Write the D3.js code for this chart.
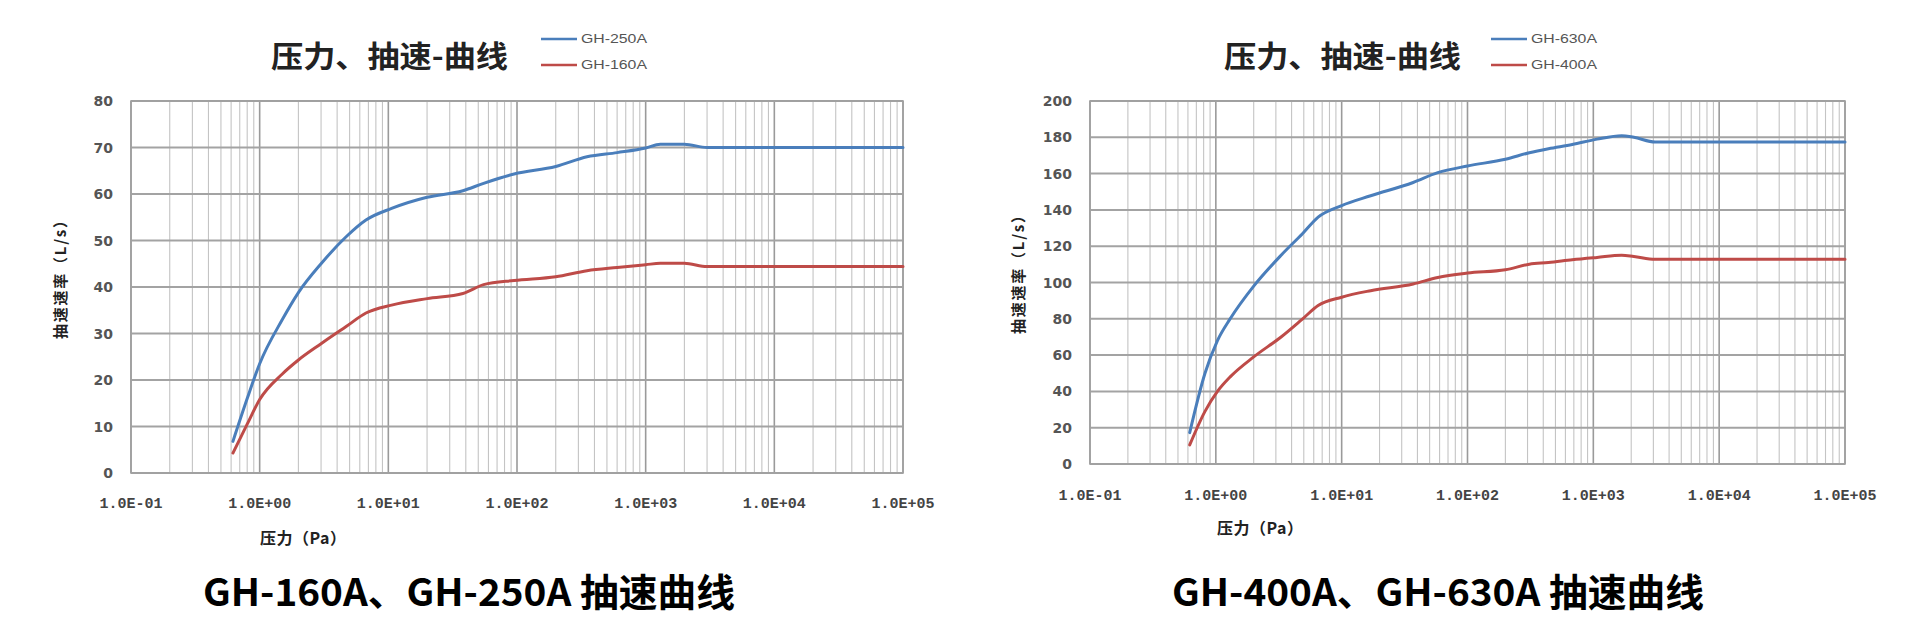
<!DOCTYPE html>
<html>
<head>
<meta charset="utf-8">
<script src="https://cdn.jsdelivr.net/npm/d3@7"></script>
<style>
  html, body { margin: 0; padding: 0; background: #fff; }
  svg { display: block; }
</style>
</head>
<body>
<svg id="chart" width="1920" height="641"></svg>
<script>
// ---------- DATA ----------
// Left chart: GH-160A / GH-250A
const pressureA = [0.62, 0.8, 1, 1.5, 2, 3, 4.7, 6.7, 10.6, 20, 38, 55, 95, 200, 350, 600, 1000, 1300, 2000, 3000, 100000];
const gh250 = [6.8, 16, 23.5, 33, 38.8, 45, 50.8, 54.4, 56.9, 59.3, 60.7, 62.3, 64.3, 65.9, 68.0, 68.9, 69.9, 70.7, 70.7, 70.0, 70.0];
const gh160 = [4.3, 10.5, 15.8, 21.3, 24.3, 27.8, 31.5, 34.4, 36.1, 37.5, 38.6, 40.5, 41.4, 42.2, 43.5, 44.2, 44.8, 45.1, 45.1, 44.4, 44.4];

// Right chart: GH-400A / GH-630A
const pressureB = [0.62, 0.82, 1.03, 1.3, 2, 3.3, 4.9, 6.5, 10, 17, 37, 58, 100, 200, 310, 440, 680, 1070, 1680, 2100, 3100, 100000];
const gh630 = [17.3, 50, 68, 80, 98, 115, 127, 136, 142.4, 147.8, 155.1, 160.5, 164.2, 167.9, 171.5, 173.7, 176, 179, 180.9, 180, 177.4, 177.4];
const gh400 = [10.5, 29, 40, 48, 59, 70, 80, 87.3, 91.9, 95.5, 99.2, 102.8, 105.2, 107, 110.1, 111, 112.5, 113.8, 115, 114.3, 112.8, 112.8];

const xTickValues = [0.1, 1, 10, 100, 1000, 10000, 100000];
const xTickLabels = ["1.0E-01", "1.0E+00", "1.0E+01", "1.0E+02", "1.0E+03", "1.0E+04", "1.0E+05"];
const yTicksA = [0, 10, 20, 30, 40, 50, 60, 70, 80];
const yTicksB = [0, 20, 40, 60, 80, 100, 120, 140, 160, 180, 200];

const chartTitle = "压力、抽速-曲线";
const yAxisTitle = "抽速速率（L/s）";
const xAxisTitle = "压力（Pa）";
const captionA = "GH-160A、GH-250A 抽速曲线";
const captionB = "GH-400A、GH-630A 抽速曲线";
const seriesNamesA = ["GH-250A", "GH-160A"];
const seriesNamesB = ["GH-630A", "GH-400A"];

// ---------- STYLE / LAYOUT ----------
const BLUE = "#4a7ebb";
const RED = "#be4b48";

const svg = d3.select("#chart");

function isMajor(d) {
  return xTickValues.some(v => Math.abs(Math.log10(v) - Math.log10(d)) < 1e-9);
}

function drawPanel(o) {
  const g = svg.append("g");
  const x = d3.scaleLog().domain([0.1, 100000]).range([o.left, o.right]);
  const y = d3.scaleLinear().domain([0, o.yMax]).range([o.bottom, o.top]);

  // vertical grid (log minor + major)
  const vt = x.ticks();
  g.selectAll(".vg").data(vt).join("line")
    .attr("x1", d => x(d)).attr("x2", d => x(d))
    .attr("y1", o.top).attr("y2", o.bottom)
    .attr("stroke", d => isMajor(d) ? "#9a9a9a" : "#c4c4c4")
    .attr("stroke-width", d => isMajor(d) ? 1.6 : 1.1);

  // horizontal grid
  g.selectAll(".hg").data(o.yTicks).join("line")
    .attr("x1", o.left).attr("x2", o.right)
    .attr("y1", d => y(d)).attr("y2", d => y(d))
    .attr("stroke", "#a3a3a3").attr("stroke-width", 2);

  // plot border
  g.append("rect")
    .attr("x", o.left).attr("y", o.top)
    .attr("width", o.right - o.left).attr("height", o.bottom - o.top)
    .attr("fill", "none").attr("stroke", "#a0a0a0").attr("stroke-width", 1.6);

  // y tick labels
  g.selectAll(".yl").data(o.yTicks).join("text")
    .attr("x", o.left - 18).attr("y", d => y(d))
    .attr("dy", "0.36em")
    .attr("text-anchor", "end")
    .attr("font-family", "'DejaVu Sans', sans-serif")
    .attr("font-weight", "bold")
    .attr("font-size", 14)
    .attr("fill", "#555")
    .text(d => d);

  // x tick labels
  g.selectAll(".xl").data(xTickValues).join("text")
    .attr("x", d => x(d)).attr("y", o.xLabelY)
    .attr("text-anchor", "middle")
    .attr("font-family", "'Liberation Mono', 'DejaVu Sans Mono', monospace")
    .attr("font-weight", "bold")
    .attr("font-size", 15)
    .attr("fill", "#444")
    .text((d, i) => xTickLabels[i]);

  // series
  const line = d3.line()
    .x(d => x(d[0])).y(d => y(d[1]))
    .curve(d3.curveMonotoneX);
  o.series.forEach(s => {
    const pts = o.pressure.map((p, i) => [p, s.values[i]]);
    g.append("path").datum(pts)
      .attr("d", line)
      .attr("fill", "none")
      .attr("stroke", s.color)
      .attr("stroke-width", 3)
      .attr("stroke-linejoin", "round")
      .attr("stroke-linecap", "round");
  });

  // title
  g.append("text")
    .attr("x", o.titleX).attr("y", o.titleY)
    .attr("font-family", "'Noto Sans CJK SC', sans-serif")
    .attr("font-weight", "bold")
    .attr("font-size", 30)
    .attr("fill", "#222")
    .attr("textLength", o.titleLen)
    .attr("lengthAdjust", "spacingAndGlyphs")
    .text(chartTitle);

  // legend
  o.series.forEach((s, i) => {
    const ly = o.legendY[i];
    g.append("line")
      .attr("x1", o.legendX).attr("x2", o.legendX + 36)
      .attr("y1", ly).attr("y2", ly)
      .attr("stroke", s.color).attr("stroke-width", 2.5);
    g.append("text")
      .attr("x", o.legendX + 40).attr("y", ly)
      .attr("dy", "0.35em")
      .attr("font-family", "'Liberation Sans', Arial, sans-serif")
      .attr("font-size", 12)
      .attr("fill", "#555")
      .attr("textLength", 66)
      .attr("lengthAdjust", "spacingAndGlyphs")
      .text(s.name);
  });

  // y axis title
  g.append("text")
    .attr("transform", `translate(${o.yTitleX},${o.yTitleY}) rotate(-90)`)
    .attr("text-anchor", "middle")
    .attr("dy", "0.35em")
    .attr("font-family", "'Noto Sans CJK SC', sans-serif")
    .attr("font-weight", "bold")
    .attr("font-size", 15)
    .attr("fill", "#222")
    .attr("textLength", 126)
    .attr("lengthAdjust", "spacing")
    .text(yAxisTitle);

  // x axis title
  g.append("text")
    .attr("x", o.xTitleX).attr("y", o.xTitleY)
    .attr("dy", "0.35em")
    .attr("font-family", "'Noto Sans CJK SC', sans-serif")
    .attr("font-weight", "bold")
    .attr("font-size", 16)
    .attr("fill", "#222")
    .attr("textLength", 86)
    .attr("lengthAdjust", "spacing")
    .text(xAxisTitle);

  // caption
  g.append("text")
    .attr("x", o.capX).attr("y", 606)
    .attr("font-family", "'Noto Sans CJK SC', sans-serif")
    .attr("font-weight", "bold")
    .attr("font-size", 38)
    .attr("fill", "#000")
    .attr("textLength", o.capLen)
    .attr("lengthAdjust", "spacingAndGlyphs")
    .text(o.caption);
}

drawPanel({
  left: 131, right: 903, top: 101, bottom: 473, yMax: 80, yTicks: yTicksA,
  xLabelY: 508, pressure: pressureA,
  series: [
    { name: seriesNamesA[0], values: gh250, color: BLUE },
    { name: seriesNamesA[1], values: gh160, color: RED }
  ],
  titleX: 271, titleY: 67, titleLen: 237,
  legendX: 541, legendY: [39, 65],
  yTitleX: 61, yTitleY: 276,
  xTitleX: 260, xTitleY: 538,
  capX: 203, capLen: 532, caption: captionA
});

drawPanel({
  left: 1090, right: 1845, top: 101, bottom: 464, yMax: 200, yTicks: yTicksB,
  xLabelY: 500, pressure: pressureB,
  series: [
    { name: seriesNamesB[0], values: gh630, color: BLUE },
    { name: seriesNamesB[1], values: gh400, color: RED }
  ],
  titleX: 1224, titleY: 67, titleLen: 237,
  legendX: 1491, legendY: [39, 65],
  yTitleX: 1019, yTitleY: 271,
  xTitleX: 1217, xTitleY: 528,
  capX: 1172, capLen: 532, caption: captionB
});
</script>
</body>
</html>
